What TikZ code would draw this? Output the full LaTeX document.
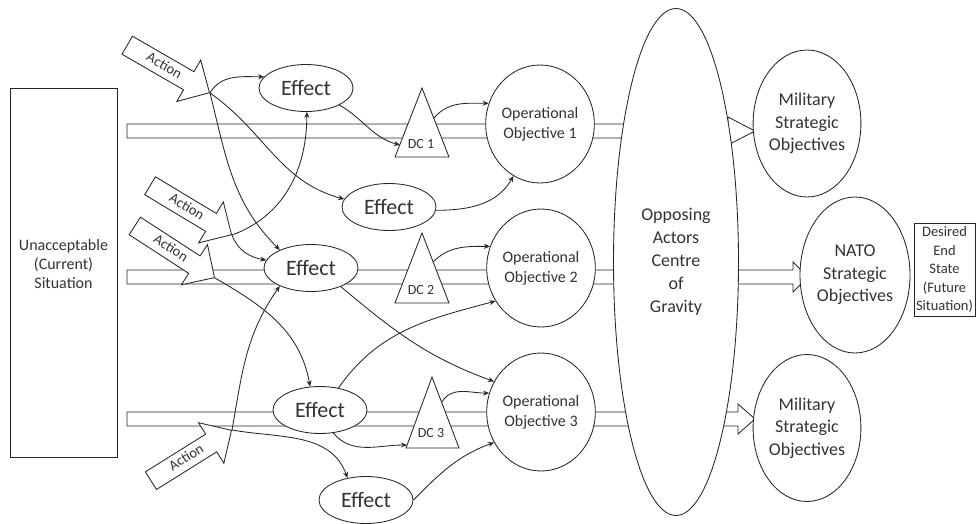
\documentclass[tikz,border=0pt]{standalone}
\usepackage{fontspec}
\setmainfont{Carlito}
\usetikzlibrary{shapes.geometric,shapes.arrows,arrows.meta}
\begin{document}
\begin{tikzpicture}[x=1pt,y=1pt,
  line width=0.85pt, draw=black!85,
  every node/.style={text=black!80},
  eff/.style={ellipse,draw,fill=white,minimum width=94pt,minimum height=47pt,inner sep=0pt,font=\fontsize{22}{24}\selectfont},
  opobj/.style={ellipse,draw,fill=white,minimum width=106pt,minimum height=118pt,inner sep=0pt,align=center,font=\fontsize{16}{20}\selectfont},
  strat/.style={ellipse,draw,fill=white,minimum width=102pt,minimum height=147pt,inner sep=0pt,align=center,font=\fontsize{18}{22.5}\selectfont},
  act/.style={single arrow,draw,fill=white,anchor=tip,minimum height=95pt,single arrow head extend=13.5pt,inner xsep=3pt,inner ysep=4.5pt,text height=9pt,text depth=2pt,font=\fontsize{14.5}{14.5}\selectfont},
  dcshape/.style={draw,fill=white},
  dclabel/.style={font=\fontsize{14}{14}\selectfont,inner sep=0pt},
  bar/.style={draw,fill=white},
  link/.style={-{Stealth[length=6pt,width=5pt]}},
]
\useasboundingbox (0,0) rectangle (977,-523);

% main arrows (bars)
\draw[bar] (127,-124) -- (728,-124) -- (728,-117) -- (755,-131) -- (728,-145) -- (728,-138) -- (127,-138) -- cycle;
\draw[bar] (127,-270) -- (793,-270) -- (793,-262) -- (808,-277) -- (793,-292) -- (793,-284) -- (127,-284) -- cycle;
\draw[bar] (127,-412) -- (738,-412) -- (738,-404) -- (755,-419) -- (738,-434) -- (738,-426) -- (127,-426) -- cycle;

% left box
\node[draw,fill=white,minimum width=107pt,minimum height=369pt,inner sep=0pt] (cur) at (63.5,-272.5) {};
\node[align=center,font=\fontsize{16}{19}\selectfont,inner sep=0pt] (curtxt) at (63.5,-264) {Unacceptable\\(Current)\\Situation};

% centre of gravity
\node[ellipse,draw,fill=white,minimum width=125pt,minimum height=507pt,inner sep=0pt,align=center,font=\fontsize{18}{23}\selectfont] (cog) at (676,-262) {Opposing\\Actors\\Centre\\of\\Gravity};

% strategic objectives
\node[strat] (ms1) at (807,-123.5) {Military\\Strategic\\Objectives};
\node[strat] (ms2) at (807,-428) {Military\\Strategic\\Objectives};
\node[strat,minimum width=110pt,minimum height=156pt] (nato) at (855,-275) {NATO\\Strategic\\Objectives};
\node[draw,fill=white,minimum width=61pt,minimum height=93pt,inner sep=1pt,align=center,font=\fontsize{14.5}{18.5}\selectfont] (des) at (944.5,-269.5) {Desired\\End\\State\\(Future\\Situation)};

% operational objectives
\node[opobj] (oo1) at (540,-124) {Operational\\Objective 1};
\node[opobj] (oo2) at (541,-268) {Operational\\Objective 2};
\node[opobj] (oo3) at (541,-412) {Operational\\Objective 3};

% decisive conditions
\draw[dcshape] (422,-88) -- (449,-157) -- (395,-157) -- cycle;
\node[dclabel] (dc1) at (421,-144) {DC 1};
\draw[dcshape] (422,-233) -- (449,-303) -- (395,-303) -- cycle;
\node[dclabel] (dc2) at (421,-290) {DC 2};
\draw[dcshape] (432,-377) -- (459,-448) -- (406,-448) -- cycle;
\node[dclabel] (dc3) at (431,-433) {DC 3};
\coordinate (dc1l) at (400,-145);
\coordinate (dc1r) at (434,-118);
\coordinate (dc2r) at (433,-262);
\coordinate (dc3l) at (407,-445);
\coordinate (dc3r) at (442,-402);

% effects
\node[eff] (e1) at (306,-88) {Effect};
\node[eff] (e2) at (389,-207) {Effect};
\node[eff] (e3) at (311,-268) {Effect};
\node[eff] (e4) at (320,-410) {Effect};
\node[eff] (e5) at (366,-500) {Effect};

% actions
\node[act,rotate=-30] (a1) at (210,-93) {Action};
\node[act,rotate=-31] (a2) at (232,-235) {Action};
\node[act,rotate=-33] (a3) at (215,-278) {Action};
\node[act,rotate=32] (a4) at (232,-430) {Action};

% links
\draw[link] (a1.tip) to[out=60,in=180] (e1.165);
\draw[link] (a1.tip) to[out=-76,in=135] (e3.150);
\draw[link] (a1.tip) to[out=-35,in=165] (e2.170);
\draw[link] (a2.tip) to[out=20,in=-90] (e1.-88);
\draw[link] (a2.tip) to[out=-70,in=170] (e3.170);
\draw[link] (a3.tip) to[out=-30,in=100] (e4.113);
\draw[link] (a4.tip) to[out=-10,in=110] (e5.130);
\draw[link] (a4.tip) to[out=80,in=-125] (e3.210);
\draw[link] (e1.-27) to[out=-30,in=165] (dc1l);
\draw[link] (dc1r) to[out=50,in=180] (oo1.158);
\draw[link] (e2.-4) to[out=0,in=-120] (oo1.-117);
\draw[link] (dc2r) to[out=45,in=180] (oo2.157);
\draw[link] (e3.-32) to[out=-40,in=160] (oo3.147);
\draw[link] (e4.50) to[out=55,in=-165] (oo2.-144);
\draw[link] (e4.-60) to[out=-50,in=180] (dc3l);
\draw[link] (dc3r) to[out=60,in=180] (oo3.160);
\draw[link] (e5.east) to[out=45,in=-160] (oo3.213);
\end{tikzpicture}
\end{document}
